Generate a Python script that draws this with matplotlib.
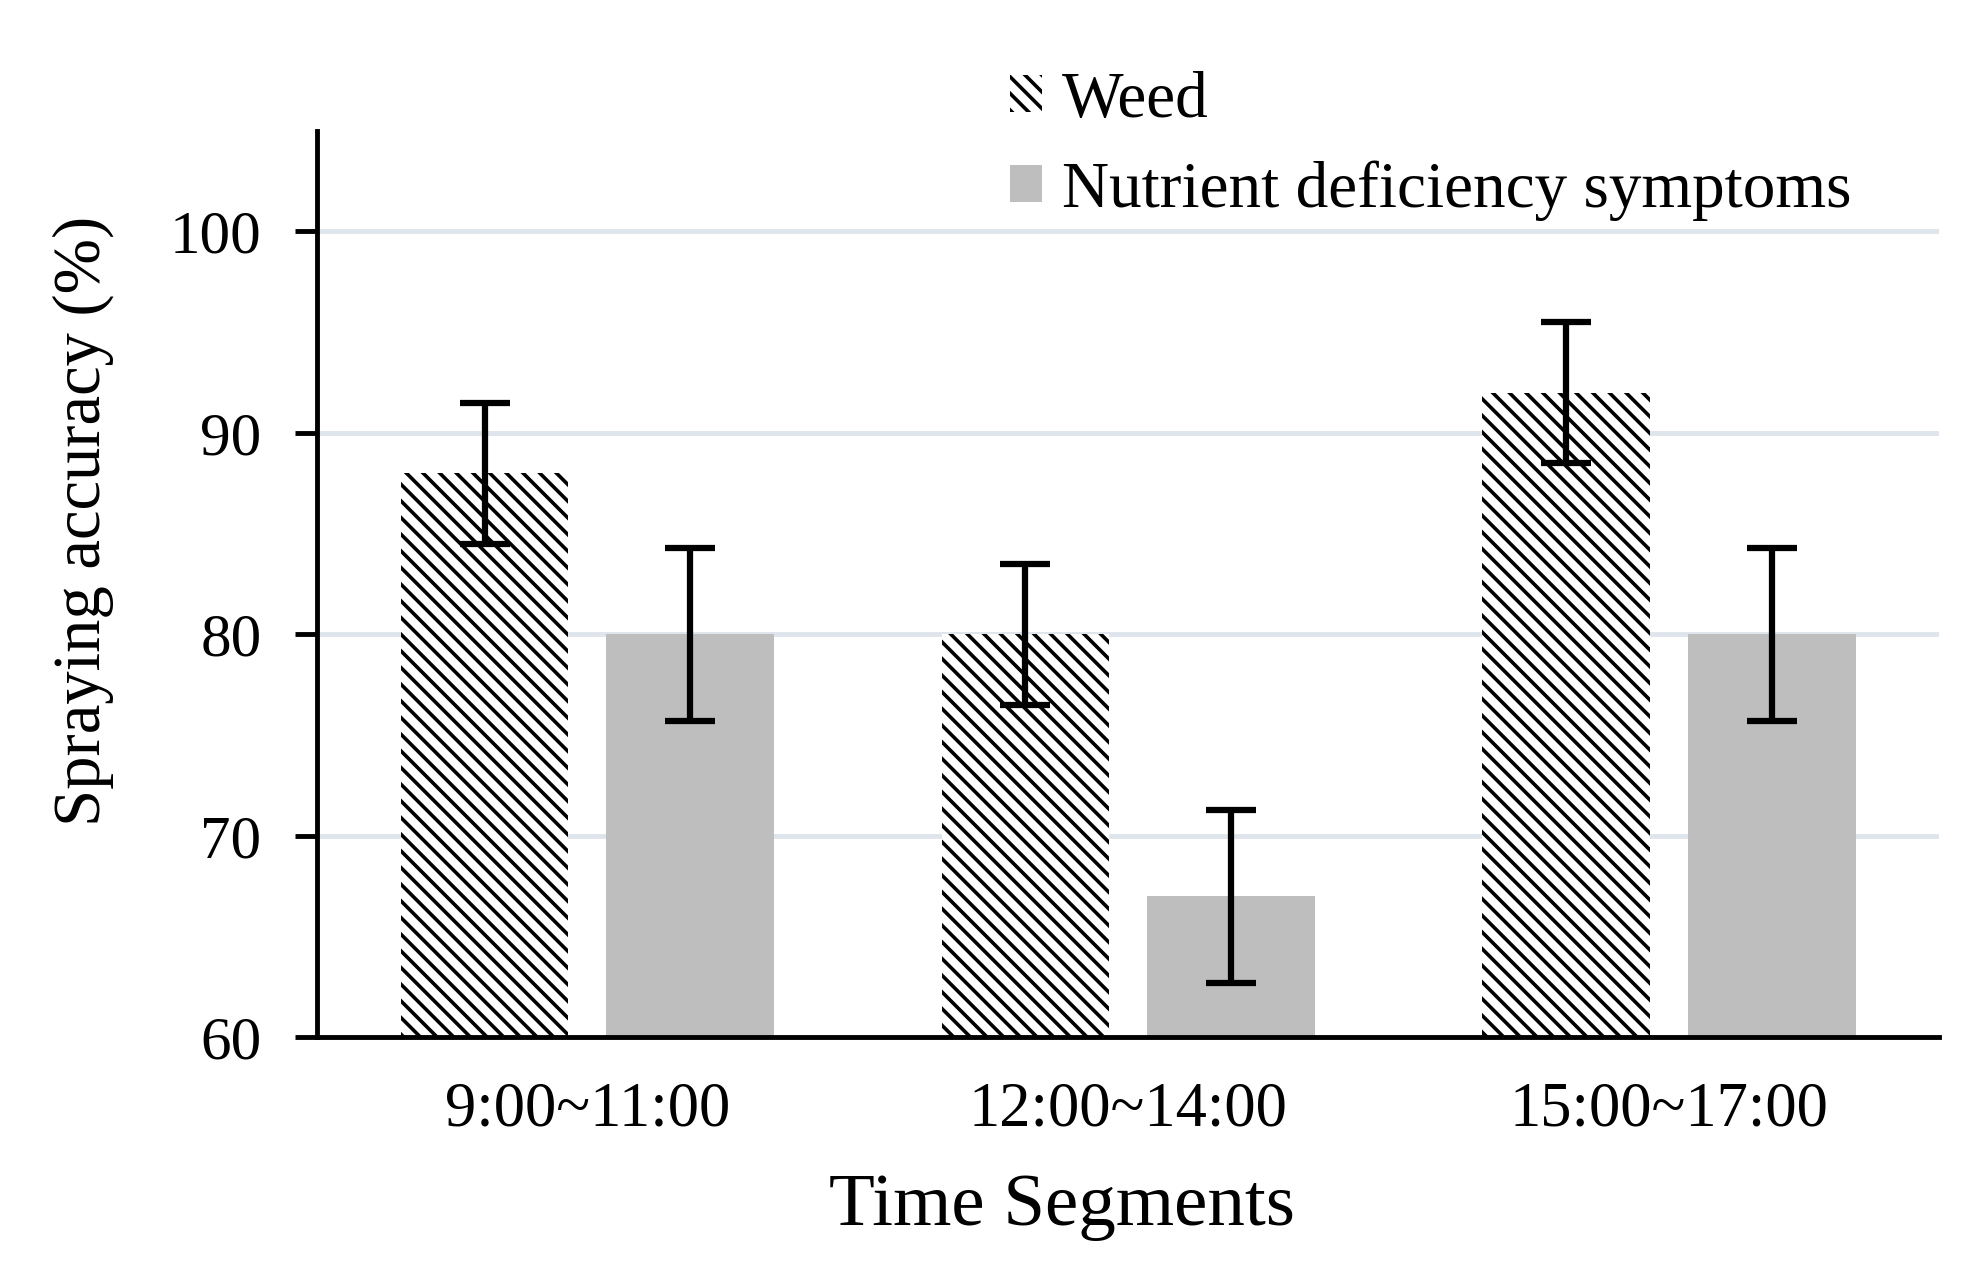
import numpy as np
import matplotlib.pyplot as plt

plt.rcParams['font.family'] = ['Liberation Serif', 'DejaVu Serif']
plt.rcParams['hatch.linewidth'] = 2.6

# data
segments = ['9:00~11:00', '12:00~14:00', '15:00~17:00']
weed = [88, 80, 92]
weed_err = [3.5, 3.5, 3.5]
nutrient = [80, 67, 80]
nutrient_err = [4.3, 4.3, 4.3]


def main():
    fig = plt.figure(figsize=(19.81, 12.68), dpi=100)
    ax = fig.add_axes([0.16, 0.182, 0.819, 0.715])

    x = np.arange(len(segments))
    w = 0.31
    off = 0.19

    ax.bar(x - off, weed, w, color='white', edgecolor='black', linewidth=0,
           hatch='\\\\', label='Weed', zorder=2)
    ax.bar(x + off, nutrient, w, color='#bebebe', linewidth=0,
           label='Nutrient deficiency symptoms', zorder=2)

    ekw = dict(fmt='none', ecolor='black', elinewidth=4.5, capsize=18,
               capthick=4.5, zorder=3)
    ax.errorbar(x - off, weed, yerr=weed_err, **ekw)
    ax.errorbar(x + off, nutrient, yerr=nutrient_err, **ekw)

    ax.set_ylim(60, 105)
    ax.set_xlim(-0.5, 2.5)
    ax.set_yticks([60, 70, 80, 90, 100])
    ax.set_xticks(x)
    ax.set_xticklabels(segments)

    for v in [70, 80, 90, 100]:
        ax.axhline(v, color='#dfe5ec', linewidth=3.5, zorder=1)

    for s in ['top', 'right']:
        ax.spines[s].set_visible(False)
    for s in ['left', 'bottom']:
        ax.spines[s].set_linewidth(3.5)

    ax.tick_params(axis='y', direction='out', length=16, width=3.5,
                   labelsize=44, pad=24)
    ax.tick_params(axis='x', length=0, labelsize=45, pad=32)

    ax.set_xlabel('Time Segments', fontsize=54)
    ax.xaxis.set_label_coords(0.459, -0.15)
    ax.set_ylabel('Spraying accuracy (%)', fontsize=48)
    ax.yaxis.set_label_coords(-0.125, 0.57)

    ax.legend(loc='upper left', bbox_to_anchor=(0.48, 0.99),
              bbox_transform=fig.transFigure, frameon=False, fontsize=47,
              handlelength=0.5, handleheight=0.5, handletextpad=0.3,
              labelspacing=0.45)

    fig.savefig('out.png', dpi=100)


if __name__ == '__main__':
    main()
